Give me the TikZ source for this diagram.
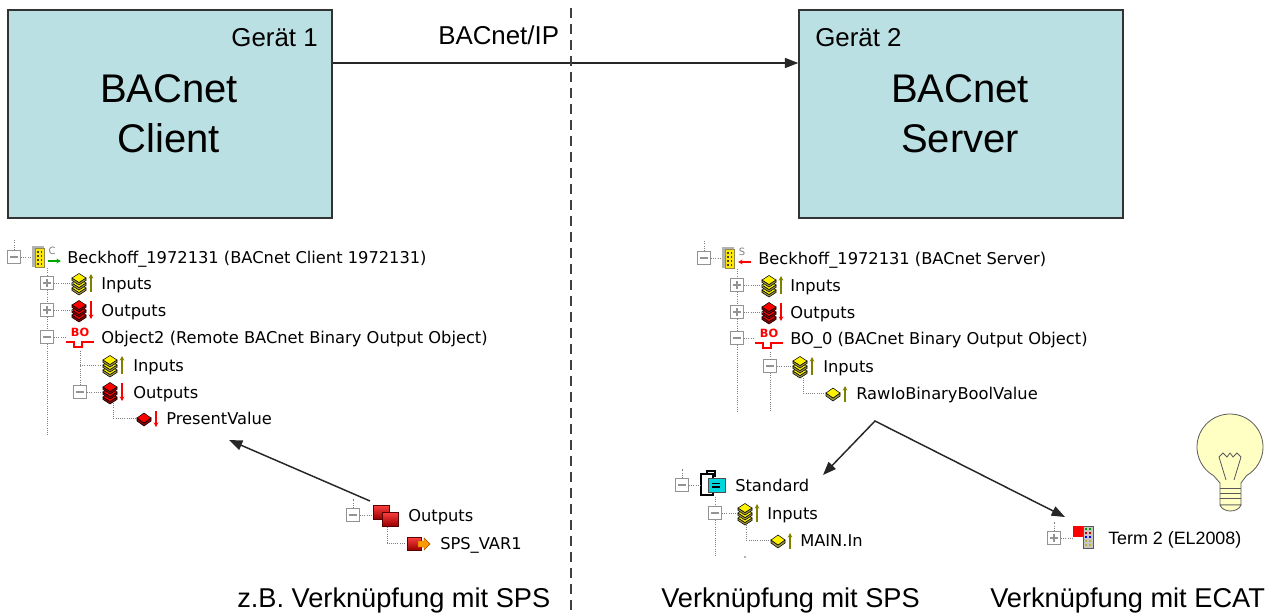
\documentclass[tikz,border=0pt]{standalone}
\usepackage{fontspec}
\setmainfont{Liberation Sans}
\newfontfamily\treefont{DejaVu Sans}
\usetikzlibrary{arrows.meta}

\definecolor{devfill}{RGB}{187,224,227}
\definecolor{lampfill}{RGB}{255,255,196}
\definecolor{olivearrow}{RGB}{128,128,0}
\definecolor{stdcyan}{RGB}{0,214,222}

\begin{document}
\begin{tikzpicture}[x=0.75pt, y=-0.75pt,
    devbox/.style={draw=black!80, fill=devfill, line width=1.1pt,
      minimum width=243pt, minimum height=156pt, inner sep=0pt},
    bigtext/.style={font=\fontsize{30}{37.5}\selectfont, align=center, inner sep=0pt},
    midtext/.style={font=\fontsize{19.4}{23}\selectfont, inner sep=0pt},
    lbl/.style={font=\fontsize{20.4}{24}\selectfont, inner sep=0pt, anchor=base west},
    row/.style={font=\treefont\fontsize{12.2}{14}\selectfont, inner sep=0pt, anchor=base west},
    conn/.style={draw=black!85, line width=1.1pt, line join=miter},
    tipend/.style={-{Triangle[length=10pt,width=7.5pt]}},
    sep/.style={draw=black!75, line width=1pt, dash pattern=on 7.5pt off 4.5pt},
    tree/.style={draw=gray, line width=0.75pt, dash pattern=on 0.75pt off 0.9pt},
    tip/.style={-{Stealth[length=3.5pt,width=3.5pt]}},
    tipl/.style={{Stealth[length=3.5pt,width=3.5pt]}-},
    xbox/.style={draw=gray!85, fill=white, line width=0.9pt, minimum size=9.5pt, inner sep=0pt},
    minusbox/.style={xbox, path picture={
        \draw[line width=0.9pt] ([xshift=-2.7pt]path picture bounding box.center)
          -- ([xshift=2.7pt]path picture bounding box.center);}},
    plusbox/.style={xbox, path picture={
        \draw[line width=0.9pt] ([xshift=-2.7pt]path picture bounding box.center)
          -- ([xshift=2.7pt]path picture bounding box.center)
          ([yshift=-2.7pt]path picture bounding box.center)
          -- ([yshift=2.7pt]path picture bounding box.center);}},
    bulb/.style={fill=lampfill, draw=black!65, line width=0.6pt},
    % --- tree icons (pixel units, origin = left middle) ---
    pics/device/.style n args={3}{code={
      \fill[gray!60] (0,-11) rectangle (12,10);
      \filldraw[fill=yellow!90!orange, draw=yellow!50!black, line width=0.3pt] (3,-9) rectangle (12,10);
      \foreach \dx in {5,8.5}
        \foreach \dy in {-6,-2,2,6}
          \fill[black!75] (\dx,\dy) rectangle ++(1.8,1.8);
      \node[text=gray, font=\treefont\fontsize{7.5}{8}\selectfont, inner sep=0pt] at (20,-6) {#1};
      \draw[#2, line width=1pt, #3] (16,4) -- (29,4);
    }},
    pics/stack/.style n args={4}{code={
      \foreach \dy in {5,0,-5}{
        \filldraw[fill=#1!55!black, line width=0.4pt]
          (0,\dy) -- (7,\dy+4.5) -- (14,\dy) -- (14,\dy+2.5) -- (7,\dy+7) -- (0,\dy+2.5) -- cycle;
        \filldraw[fill=#1, line width=0.4pt]
          (0,\dy) -- (7,\dy-4.5) -- (14,\dy) -- (7,\dy+4.5) -- cycle;
      }
      \draw[#2, line width=1.1pt, tip] (19,#3) -- (19,#4);
    }},
    pics/var/.style n args={4}{code={
      \filldraw[fill=#1!55!black, line width=0.4pt]
        (0,0) -- (7,5) -- (14,0) -- (14,3) -- (7,8) -- (0,3) -- cycle;
      \filldraw[fill=#1, line width=0.4pt] (0,0) -- (7,-5) -- (14,0) -- (7,5) -- cycle;
      \draw[#2, line width=1.1pt, tip] (19,#3) -- (19,#4);
    }},
    pics/bo/.style={code={
      \node[text=red, font=\treefont\bfseries\fontsize{8.5}{9}\selectfont, inner sep=0pt] at (14,-5) {BO};
      \draw[red, line width=1pt] (0,5) -- (8,5) -- (8,10) -- (16,10) -- (16,5) -- (28,5);
    }},
    pics/stdprog/.style={code={
      \filldraw[fill=white, draw=black, line width=0.9pt] (0,-11) rectangle (12,10);
      \draw[line width=0.8pt] (6,-11) -- (6,-14) -- (14,-14) -- (14,-8);
      \filldraw[fill=stdcyan, draw=black!70, line width=0.5pt] (7,-7) rectangle (24,7);
      \draw[line width=0.8pt] (11,-1.5) -- (19,-1.5) (11,2) -- (19,2);
    }},
    pics/reds/.style={code={
      \shadedraw[top color=red!75, bottom color=red!60!black, draw=red!35!black, line width=0.4pt]
        (0,-10) rectangle (16,4);
      \shadedraw[top color=red!75, bottom color=red!60!black, draw=red!35!black, line width=0.4pt]
        (9,-3) rectangle (25,11);
    }},
    pics/spsvar/.style={code={
      \shadedraw[top color=red!75, bottom color=red!60!black, draw=red!35!black, line width=0.4pt]
        (0,-6) rectangle (14,7);
      \filldraw[fill=orange!80!yellow, draw=orange!60!black, line width=0.3pt]
        (11,-2) -- (17,-2) -- (17,-5) -- (23,1) -- (17,7) -- (17,4) -- (11,4) -- cycle;
    }},
    pics/term/.style={code={
      \fill[red] (0,-12) rectangle (10,-1);
      \filldraw[fill=gray!45, draw=gray!70!black, line width=0.3pt] (10,-12) rectangle (20,10);
      \foreach \c [count=\i] in {green!60!black, red!80!black, blue, yellow!70!black, yellow!70!black}{
        \fill[\c] (12,-14+4*\i) rectangle ++(2,2);
        \fill[\c] (16,-14+4*\i) rectangle ++(2,2);
      }
    }}
  ]
  \useasboundingbox (0,0) rectangle (1278,613);

  % --- the two devices and the IP link ---
  \node[devbox] (client) at (170,114) {};
  \node[devbox] (server) at (961,114) {};
  \node[midtext, anchor=base east] (g1) at (318,47) {Gerät 1};
  \node[midtext, anchor=base west] (g2) at (815,47) {Gerät 2};
  \node[bigtext] (cname) at (169,114) {BACnet\\Client};
  \node[bigtext] (sname) at (960,114) {BACnet\\Server};
  \draw[conn, tipend] (client.east |- 0,63) -- (server.west |- 0,63);
  \node[midtext, anchor=base west] (ip) at (438,45) {BACnet/IP};
  \draw[sep] (571,8) -- (571,613);

  % --- client tree ---
  \node[minusbox] (cb1) at (14,257) {};
  \pic at (32,257) {device={C}{green!65!black}{tip}};
  \node[row] (cdev) at (67,263) {Beckhoff\_1972131 (BACnet Client 1972131)};
  \node[plusbox] (cb2) at (47,283) {};
  \pic at (72,283) {stack={yellow}{olivearrow}{9}{-9}};
  \node[row] (cin) at (101,289) {Inputs};
  \node[plusbox] (cb3) at (47,310) {};
  \pic at (72,310) {stack={red}{red}{-9}{9}};
  \node[row] (cout) at (101,316) {Outputs};
  \node[minusbox] (cb4) at (47,337) {};
  \pic at (66,337) {bo};
  \node[row] (cobj) at (101,343) {Object2 (Remote BACnet Binary Output Object)};
  \coordinate (cj5) at (80,365);
  \pic at (103,365) {stack={yellow}{olivearrow}{9}{-9}};
  \node[row] (coin) at (133,371) {Inputs};
  \node[minusbox] (cb6) at (80,392) {};
  \pic at (103,392) {stack={red}{red}{-9}{9}};
  \node[row] (coout) at (133,398) {Outputs};
  \coordinate (cj7) at (113,418);
  \pic at (137,418) {var={red}{red}{-7}{9}};
  \node[row] (cpv) at (166,424) {PresentValue};

  \draw[tree] (cb1.north) -- ++(0,-10) (cb1.east) -- +(11,0);
  \draw[tree] (cb2 |- cb1) ++(0,11) -- (cb2.north) (cb2.south) -- (cb3.north)
    (cb3.south) -- (cb4.north) (cb4.south) -- (cb4 |- 0,436);
  \foreach \b in {cb2,cb3} \draw[tree] (\b.east) -- +(18,0);
  \draw[tree] (cb4.east) -- +(12,0);
  \draw[tree] (cb6 |- cb4) ++(0,14) -- (cb6.north) (cj5) -- +(22,0) (cb6.east) -- +(16,0);
  \draw[tree] (cj7) ++(0,-15) -- (cj7) -- +(23,0);

  % --- server tree ---
  \node[minusbox] (sb1) at (704,258) {};
  \pic at (722,258) {device={S}{red}{tipl}};
  \node[row] (sdev) at (758,264) {Beckhoff\_1972131 (BACnet Server)};
  \node[plusbox] (sb2) at (737,285) {};
  \pic at (762,285) {stack={yellow}{olivearrow}{9}{-9}};
  \node[row] (sin) at (790,291) {Inputs};
  \node[plusbox] (sb3) at (737,312) {};
  \pic at (762,312) {stack={red}{red}{-9}{9}};
  \node[row] (sout) at (790,318) {Outputs};
  \node[minusbox] (sb4) at (737,338) {};
  \pic at (755,338) {bo};
  \node[row] (sobj) at (790,344) {BO\_0 (BACnet Binary Output Object)};
  \node[minusbox] (sb5) at (770,366) {};
  \pic at (793,366) {stack={yellow}{olivearrow}{9}{-9}};
  \node[row] (soin) at (823,372) {Inputs};
  \coordinate (sj6) at (803,393);
  \pic at (826,393) {var={yellow}{olivearrow}{9}{-7}};
  \node[row] (sraw) at (856,399) {RawIoBinaryBoolValue};

  \draw[tree] (sb1.north) -- ++(0,-10) (sb1.east) -- +(11,0);
  \draw[tree] (sb2 |- sb1) ++(0,11) -- (sb2.north) (sb2.south) -- (sb3.north)
    (sb3.south) -- (sb4.north) (sb4.south) -- (sb4 |- 0,411);
  \foreach \b in {sb2,sb3} \draw[tree] (\b.east) -- +(18,0);
  \draw[tree] (sb4.east) -- +(11,0);
  \draw[tree] (sb5 |- sb4) ++(0,14) -- (sb5.north) (sb5.south) -- (sb5 |- 0,411)
    (sb5.east) -- +(16,0);
  \draw[tree] (sj6) ++(0,-15) -- (sj6) -- +(22,0);

  % --- PLC side ---
  \node[minusbox] (pb1) at (682,485) {};
  \pic at (701,485) {stdprog};
  \node[row] (pstd) at (735,491) {Standard};
  \node[minusbox] (pb2) at (715,513) {};
  \pic at (738,513) {stack={yellow}{olivearrow}{9}{-9}};
  \node[row] (pin) at (767,519) {Inputs};
  \coordinate (pj3) at (746,540);
  \pic at (771,540) {var={yellow}{olivearrow}{9}{-7}};
  \node[row] (pmain) at (800,546) {MAIN.In};

  \draw[tree] (pb1.north) -- ++(0,-9) (pb1.east) -- +(12,0);
  \draw[tree] (pb2 |- pb1) ++(0,12) -- (pb2.north) (pb2.south) -- (pb2 |- 0,556)
    (pb2.east) -- +(16,0);
  \draw[tree] (pj3) ++(0,-15) -- (pj3) -- +(24,0);
  \fill[gray!80!black] (745,557) circle (0.9);

  \node[minusbox] (ob1) at (353,515) {};
  \pic at (373,515) {reds};
  \node[row] (oout) at (408,521) {Outputs};
  \coordinate (oj2) at (387,543);
  \pic at (407,543) {spsvar};
  \node[row] (ovar) at (440,549) {SPS\_VAR1};
  \draw[tree] (ob1.north) -- ++(0,-9) (ob1.east) -- +(13,0);
  \draw[tree] (oj2) ++(0,-16) -- (oj2) -- +(19,0);

  % --- EtherCAT terminal ---
  \node[plusbox] (tb) at (1054,538) {};
  \pic at (1073,538) {term};
  \node[font=\fontsize{13.4}{16}\selectfont, inner sep=0pt, anchor=base west] (term) at (1108,544) {Term 2 (EL2008)};
  \draw[tree] (tb.north) -- ++(0,-9) (tb.east) -- +(12,0);

  % --- lamp ---
  \filldraw[bulb] (1213.5,475.6) arc[start angle=120, end angle=420, radius=33]
    -- (1241,483) -- (1241,505) -- (1220,505) -- (1220,483) -- cycle;
  \foreach \y in {488,493,498} \draw[bulb] (1220,\y) -- (1241,\y);
  \filldraw[bulb] (1220,505) -- (1241,505) .. controls (1238,513) and (1223,513) .. (1220,505);
  \draw[bulb, fill=none] (1219,457) -- (1226,480) (1241,457) -- (1234,480)
    (1219,457) -- (1223,453) -- (1227,457) -- (1230,453) -- (1233,457) -- (1237,453) -- (1241,457);

  % --- mapping arrows ---
  \coordinate (spsfrom) at (370,501);
  \coordinate (pvtip) at (229,440);
  \draw[conn, tipend] (spsfrom) -- (pvtip);
  \coordinate (fork) at (875,421);
  \coordinate (stdtip) at (823,475);
  \coordinate (termtip) at (1065,517);
  \draw[conn, {Triangle[length=10pt,width=7.5pt]}-{Triangle[length=10pt,width=7.5pt]}]
    (stdtip) -- (fork) -- (termtip);

  % --- captions ---
  \node[lbl] (lcap) at (237,607) {z.B. Verknüpfung mit SPS};
  \node[lbl] (mcap) at (661,607) {Verknüpfung mit SPS};
  \node[lbl] (rcap) at (990,607) {Verknüpfung mit ECAT};
\end{tikzpicture}
\end{document}
